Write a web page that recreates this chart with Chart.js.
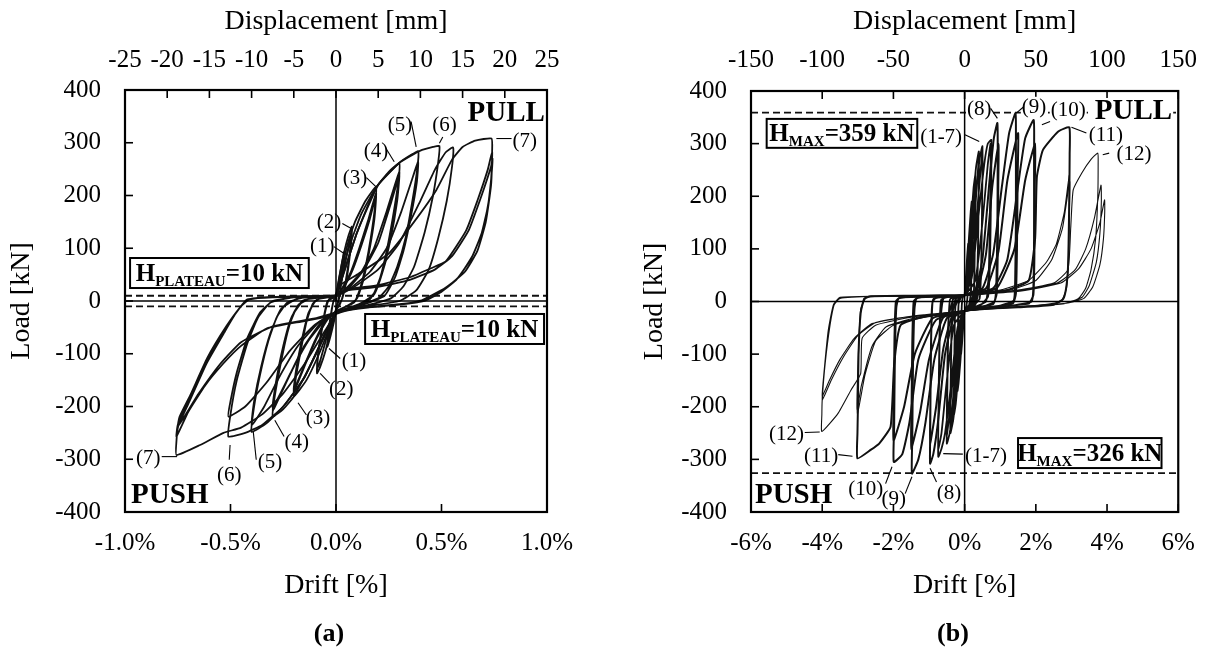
<!DOCTYPE html>
<html><head><meta charset="utf-8">
<script src="https://cdn.jsdelivr.net/npm/chart.js@4.4.1/dist/chart.umd.min.js"></script>
<style>
html,body{margin:0;padding:0;background:#fff;}
#wrap{position:relative;width:1213px;height:648px;overflow:hidden;background:#fff;}
canvas{position:absolute;top:0;}
#ca{left:0;} #cb{left:606px;}
.cap{position:absolute;font:bold 26px 'Liberation Serif',serif;transform:translate(-50%,-50%);color:#000;}
</style></head><body>
<div id="wrap">
<canvas id="ca" width="606" height="648"></canvas>
<canvas id="cb" width="607" height="648"></canvas>
<div class="cap" style="left:329px;top:633px">(a)</div>
<div class="cap" style="left:953px;top:633px">(b)</div>
</div>
<script>
// ---------- tick values / labels ----------
const loadTicks = [-400,-300,-200,-100,0,100,200,300,400];
const loadLabels = ['-400','-300','-200','-100','0','100','200','300','400'];
const aDriftTicks = [-1.0,-0.5,0,0.5,1.0];
const aDriftLabels = ['-1.0%','-0.5%','0.0%','0.5%','1.0%'];
const aDispTicks = [-25,-20,-15,-10,-5,0,5,10,15,20,25];
const aDispLabels = ['-25','-20','-15','-10','-5','0','5','10','15','20','25'];
const bDriftTicks = [-6,-4,-2,0,2,4,6];
const bDriftLabels = ['-6%','-4%','-2%','0%','2%','4%','6%'];
const bDispTicks = [-150,-100,-50,0,50,100,150];
const bDispLabels = ['-150','-100','-50','0','50','100','150'];

// ---------- reference levels (kN) ----------
const aPlateau = [10, -10];
const bMax = [359, -326];

// ---------- panel (a): drift [%], load [kN] ----------
const a1 = [[0,0],[0.01,30],[0.025,65],[0.038,93],[0.035,70],[0.025,35],[0.015,5],[0.005,-10],[0,-20],[-0.01,-40],[-0.025,-65],[-0.04,-87],[-0.036,-65],[-0.025,-30],[-0.012,0],[0,12],[0.01,25],[0.025,55],[0.038,85],[0.035,62],[0.022,25],[0.01,0],[0,-15],[-0.015,-40],[-0.03,-65],[-0.04,-80],[-0.035,-55],[-0.02,-15],[-0.01,2],[0,10]];
const a2 = [[0,10],[0.015,45],[0.04,95],[0.06,125],[0.075,141],[0.07,110],[0.055,60],[0.035,15],[0.02,-5],[0,-18],[-0.02,-45],[-0.05,-95],[-0.075,-125],[-0.09,-137],[-0.085,-105],[-0.065,-50],[-0.045,-10],[-0.03,5],[0,10],[0.02,30],[0.045,75],[0.065,115],[0.075,130],[0.068,95],[0.05,40],[0.03,5],[0.01,-10],[0,-18],[-0.025,-40],[-0.055,-85],[-0.08,-120],[-0.09,-128],[-0.082,-90],[-0.06,-35],[-0.04,0],[0,8]];
const a3 = [[0,8],[0.02,45],[0.05,100],[0.09,150],[0.14,190],[0.19,217],[0.185,180],[0.165,120],[0.14,65],[0.115,25],[0.09,0],[0.05,-10],[0,-20],[-0.03,-50],[-0.08,-100],[-0.14,-150],[-0.2,-181],[-0.19,-145],[-0.165,-90],[-0.14,-40],[-0.11,-5],[-0.07,6],[0,10],[0.03,25],[0.07,55],[0.11,100],[0.15,150],[0.19,205],[0.183,160],[0.16,100],[0.135,50],[0.11,15],[0.085,-3],[0.04,-12],[0,-20],[-0.04,-35],[-0.09,-70],[-0.14,-115],[-0.2,-172],[-0.19,-135],[-0.16,-75],[-0.135,-30],[-0.1,0],[-0.06,6],[0,10],[0.04,28],[0.08,60],[0.12,105],[0.16,155],[0.19,200],[0.182,155],[0.158,95],[0.13,40],[0.1,5],[0.05,-10],[0,-20],[-0.05,-38],[-0.1,-75],[-0.15,-122],[-0.2,-168],[-0.188,-128],[-0.16,-70],[-0.13,-22],[-0.09,3],[0,9]];
const a4 = [[0,9],[0.02,40],[0.06,100],[0.12,165],[0.19,215],[0.25,245],[0.3,261],[0.295,225],[0.27,160],[0.24,95],[0.21,45],[0.18,15],[0.14,-3],[0.07,-12],[0,-22],[-0.04,-55],[-0.1,-105],[-0.2,-181],[-0.25,-205],[-0.3,-219],[-0.29,-180],[-0.26,-115],[-0.23,-60],[-0.2,-22],[-0.16,0],[-0.1,7],[0,10],[0.05,25],[0.12,55],[0.18,100],[0.24,170],[0.3,245],[0.292,200],[0.265,135],[0.235,75],[0.2,30],[0.16,3],[0.08,-10],[0,-22],[-0.06,-40],[-0.13,-75],[-0.2,-125],[-0.26,-175],[-0.3,-208],[-0.288,-165],[-0.255,-100],[-0.22,-45],[-0.18,-8],[-0.12,5],[0,10],[0.06,25],[0.13,58],[0.2,110],[0.26,185],[0.3,238],[0.29,190],[0.26,120],[0.22,55],[0.18,12],[0.1,-8],[0,-20],[-0.07,-40],[-0.15,-85],[-0.22,-140],[-0.3,-202],[-0.285,-155],[-0.25,-85],[-0.21,-30],[-0.15,2],[0,9]];
const a5 = [[0,9],[0.03,45],[0.1,130],[0.19,215],[0.3,262],[0.36,278],[0.39,284],[0.385,250],[0.36,185],[0.33,120],[0.29,65],[0.25,28],[0.2,5],[0.1,-9],[0,-22],[-0.05,-60],[-0.15,-145],[-0.25,-200],[-0.33,-232],[-0.4,-248],[-0.39,-205],[-0.36,-140],[-0.32,-75],[-0.28,-30],[-0.23,-3],[-0.15,7],[0,10],[0.07,25],[0.16,55],[0.24,100],[0.31,170],[0.36,230],[0.39,265],[0.383,225],[0.355,160],[0.32,95],[0.28,45],[0.23,10],[0.12,-8],[0,-22],[-0.08,-40],[-0.18,-85],[-0.27,-145],[-0.34,-200],[-0.4,-236],[-0.388,-190],[-0.355,-125],[-0.31,-60],[-0.26,-15],[-0.18,5],[0,10]];
const a6 = [[0,9],[0.03,45],[0.1,130],[0.2,220],[0.3,262],[0.4,285],[0.46,292],[0.49,294],[0.485,265],[0.46,200],[0.42,130],[0.37,65],[0.32,28],[0.26,5],[0.15,-8],[0,-22],[-0.05,-60],[-0.15,-145],[-0.25,-200],[-0.35,-235],[-0.43,-250],[-0.51,-257],[-0.5,-215],[-0.47,-150],[-0.42,-80],[-0.37,-32],[-0.31,-3],[-0.2,7],[0,10],[0.08,25],[0.2,60],[0.3,110],[0.4,190],[0.47,250],[0.52,282],[0.555,291],[0.55,255],[0.525,190],[0.485,120],[0.44,60],[0.38,20],[0.3,0],[0.15,-10],[0,-22],[-0.1,-45],[-0.22,-95],[-0.33,-155],[-0.43,-200],[-0.51,-219],[-0.5,-190],[-0.47,-135],[-0.42,-70],[-0.36,-22],[-0.3,0],[-0.2,7],[0,10]];
const a7 = [[0,8],[0.02,30],[0.1,50],[0.25,90],[0.37,150],[0.475,210],[0.55,268],[0.6,292],[0.66,304],[0.737,308],[0.74,285],[0.735,220],[0.71,150],[0.67,95],[0.61,55],[0.52,25],[0.44,8],[0.4,0],[0.3,-6],[0.15,-12],[0.05,-18],[0,-25],[-0.05,-55],[-0.15,-120],[-0.25,-175],[-0.35,-215],[-0.45,-240],[-0.533,-250],[-0.644,-273],[-0.756,-292],[-0.756,-265],[-0.748,-238],[-0.7,-195],[-0.613,-118],[-0.53,-60],[-0.47,-20],[-0.42,2],[-0.35,7],[-0.2,9],[0,11],
 [0.05,22],[0.2,30],[0.35,45],[0.45,62],[0.52,75],[0.617,134],[0.67,190],[0.72,250],[0.74,283],[0.738,250],[0.73,205],[0.7,140],[0.65,88],[0.58,45],[0.5,20],[0.43,4],[0.35,-4],[0.2,-10],[0.05,-18],[0,-24],[-0.05,-30],[-0.15,-38],[-0.327,-52],[-0.45,-85],[-0.533,-118],[-0.62,-160],[-0.7,-210],[-0.756,-257],[-0.75,-235],[-0.7,-190],[-0.613,-112],[-0.53,-55],[-0.46,-15],[-0.42,3],[-0.3,8],[-0.1,9],[0,10],
 [0.05,20],[0.2,27],[0.35,40],[0.47,60],[0.55,85],[0.63,135],[0.69,200],[0.735,255],[0.742,270],[0.735,230],[0.72,180],[0.69,128],[0.64,80],[0.57,40],[0.49,15],[0.42,0],[0.3,-7],[0.1,-14],[0,-22],[-0.1,-33],[-0.3,-48],[-0.45,-78],[-0.55,-120],[-0.65,-175],[-0.72,-220],[-0.75,-238],[-0.742,-220],[-0.69,-178],[-0.61,-108],[-0.52,-48],[-0.45,-10],[-0.41,3],[-0.3,7],[0,9]];

// ---------- panel (b): drift [%], load [kN] ----------
const b17 = [[0,12],[0.03,40],[0.07,85],[0.1,110],[0.095,60],[0.08,10],[0.05,-8],[0,-18],[-0.03,-40],[-0.07,-78],[-0.1,-100],[-0.095,-55],[-0.08,-8],[-0.05,8],[0,12],
 [0.05,40],[0.12,120],[0.17,170],[0.2,190],[0.195,120],[0.18,30],[0.15,-5],[0.05,-12],[0,-18],[-0.05,-45],[-0.12,-115],[-0.17,-155],[-0.2,-170],[-0.195,-100],[-0.18,-20],[-0.15,6],[-0.05,10],[0,12],
 [0.07,35],[0.14,110],[0.2,175],[0.195,100],[0.18,20],[0.12,-8],[0,-18],[-0.07,-40],[-0.14,-105],[-0.2,-160],[-0.19,-80],[-0.17,-5],[-0.1,8],[0,12],
 [0.08,45],[0.18,150],[0.25,215],[0.3,240],[0.295,160],[0.275,50],[0.24,0],[0.1,-10],[0,-18],[-0.08,-50],[-0.18,-140],[-0.25,-195],[-0.3,-215],[-0.295,-140],[-0.275,-40],[-0.24,5],[-0.1,10],[0,12],
 [0.1,40],[0.2,130],[0.3,225],[0.29,130],[0.26,20],[0.15,-8],[0,-18],[-0.1,-45],[-0.2,-125],[-0.3,-205],[-0.29,-110],[-0.26,-10],[-0.15,8],[0,12],
 [0.1,45],[0.22,170],[0.32,255],[0.4,285],[0.395,200],[0.37,70],[0.33,5],[0.15,-10],[0,-18],[-0.1,-50],[-0.22,-160],[-0.32,-225],[-0.4,-250],[-0.393,-170],[-0.37,-55],[-0.33,4],[-0.15,10],[0,12],
 [0.14,40],[0.27,150],[0.4,270],[0.39,170],[0.35,40],[0.25,-6],[0,-18],[-0.14,-45],[-0.27,-140],[-0.4,-240],[-0.39,-150],[-0.35,-30],[-0.25,6],[0,12],
 [0.15,45],[0.3,190],[0.42,270],[0.5,295],[0.495,210],[0.47,80],[0.42,5],[0.2,-10],[0,-18],[-0.15,-55],[-0.3,-190],[-0.42,-250],[-0.5,-270],[-0.49,-190],[-0.46,-60],[-0.41,4],[-0.2,10],[0,12],
 [0.18,40],[0.35,170],[0.5,285],[0.49,180],[0.45,40],[0.3,-6],[0,-18],[-0.18,-45],[-0.35,-160],[-0.5,-260],[-0.49,-160],[-0.45,-30],[-0.3,7],[0,12],
 [0.2,45],[0.4,170],[0.55,260],[0.65,300],[0.75,307],[0.745,230],[0.72,100],[0.66,10],[0.4,-10],[0,-18],[-0.2,-50],[-0.4,-170],[-0.55,-250],[-0.65,-280],[-0.74,-295],[-0.735,-210],[-0.71,-80],[-0.66,3],[-0.4,10],[0,12],
 [0.3,40],[0.5,150],[0.65,260],[0.73,300],[0.72,200],[0.68,60],[0.6,0],[0.3,-10],[0,-18],[-0.3,-45],[-0.5,-150],[-0.65,-250],[-0.74,-280],[-0.73,-190],[-0.69,-50],[-0.6,5],[-0.3,10],[0,12]];
const b8 = [[0,12],[0.3,22],[0.5,80],[0.7,230],[0.82,310],[0.92,339],[0.93,280],[0.92,140],[0.89,30],[0.84,0],[0.6,-8],[0.2,-13],[0,-18],[-0.3,-30],[-0.55,-100],[-0.75,-230],[-0.88,-290],[-0.97,-308],[-0.965,-240],[-0.95,-110],[-0.92,-15],[-0.87,5],[-0.6,9],[-0.2,11],[0,12],
 [0.35,22],[0.6,90],[0.78,220],[0.95,300],[0.945,220],[0.93,90],[0.9,15],[0.8,-5],[0.3,-12],[0,-18],[-0.35,-28],[-0.6,-90],[-0.8,-200],[-0.97,-270],[-0.96,-190],[-0.94,-70],[-0.9,0],[-0.8,7],[-0.3,10],[0,12]];
const b9 = [[0,12],[0.5,25],[0.8,90],[1.05,220],[1.25,320],[1.43,358],[1.44,300],[1.44,150],[1.42,40],[1.38,2],[1.0,-8],[0.4,-13],[0,-18],[-0.5,-32],[-0.85,-110],[-1.1,-230],[-1.3,-300],[-1.48,-327],[-1.47,-260],[-1.45,-120],[-1.41,-15],[-1.35,6],[-0.9,10],[-0.3,11],[0,12],
 [0.6,25],[0.95,95],[1.2,230],[1.5,320],[1.49,240],[1.47,100],[1.44,15],[1.35,-4],[0.5,-12],[0,-18],[-0.6,-30],[-1.0,-110],[-1.25,-210],[-1.5,-280],[-1.49,-200],[-1.47,-80],[-1.43,0],[-1.3,8],[-0.4,10],[0,12]];
const b10 = [[0,12],[0.8,25],[1.2,80],[1.5,220],[1.7,310],[1.94,345],[1.95,280],[1.95,120],[1.93,25],[1.88,0],[1.3,-8],[0.5,-13],[0,-18],[-0.8,-35],[-1.3,-110],[-1.55,-230],[-1.75,-290],[-1.99,-305],[-1.98,-240],[-1.96,-110],[-1.92,-12],[-1.85,6],[-1.2,10],[-0.4,11],[0,12],
 [0.9,25],[1.4,100],[1.7,230],[1.98,300],[1.97,220],[1.96,90],[1.93,12],[1.8,-4],[0.6,-12],[0,-18],[-0.9,-32],[-1.4,-100],[-1.7,-200],[-2.0,-265],[-1.99,-190],[-1.97,-70],[-1.93,0],[-1.8,8],[-0.5,10],[0,12]];
const b11 = [[0,12],[1.2,22],[1.8,40],[1.98,120],[2.03,237],[2.2,288],[2.63,323],[2.94,331],[2.95,280],[2.94,200],[2.92,110],[2.9,60],[2.85,25],[2.77,5],[2.5,-6],[1.5,-11],[0.5,-14],[0,-18],[-1.2,-30],[-1.8,-45],[-1.98,-120],[-2.08,-238],[-2.4,-270],[-2.64,-282],[-3.01,-298],[-3.01,-250],[-3.0,-213],[-2.98,-100],[-2.92,-22],[-2.82,5],[-2.64,10],[-1.5,11],[0,12]];
const b11r = [[0,12],[1.0,22],[1.8,40],[2.3,75],[2.58,110],[2.8,170],[2.94,240],[2.945,200],[2.93,110],[2.9,55],[2.84,20],[2.75,3],[2.4,-6],[1.2,-11],[0,-18],[-1.0,-28],[-2.0,-45],[-2.5,-75],[-2.8,-140],[-3.01,-213],[-2.99,-120],[-2.93,-25],[-2.82,5],[-2.6,10],[-1.2,11],[0,12],
 [1.2,20],[2.0,40],[2.45,80],[2.75,140],[2.95,228],[2.945,180],[2.92,90],[2.86,25],[2.7,0],[2.0,-8],[0.6,-13],[0,-18],[-1.2,-28],[-2.2,-48],[-2.6,-85],[-2.9,-160],[-3.02,-205],[-2.99,-110],[-2.92,-15],[-2.75,8],[-1.5,11],[0,12]];
const b12 = [[0,12],[1.5,22],[2.5,35],[2.9,60],[2.98,140],[3.05,212],[3.3,245],[3.55,270],[3.74,282],[3.75,260],[3.74,200],[3.68,120],[3.55,60],[3.4,25],[3.2,6],[2.8,-4],[1.5,-10],[0,-18],[-1.5,-30],[-2.5,-45],[-2.88,-70],[-2.92,-137],[-3.19,-168],[-3.56,-213],[-4.01,-247],[-4.01,-215],[-4.0,-187],[-3.92,-120],[-3.78,-45],[-3.65,-3],[-3.5,8],[-2.5,10],[-1.0,11],[0,12],
 [1.5,20],[2.6,35],[3.1,60],[3.4,100],[3.65,160],[3.83,221],[3.84,190],[3.8,130],[3.7,75],[3.5,30],[3.3,8],[2.9,-3],[1.5,-10],[0,-18],[-1.5,-28],[-2.5,-40],[-3.0,-65],[-3.4,-105],[-3.75,-150],[-4.0,-187],[-3.95,-140],[-3.82,-60],[-3.68,-8],[-3.5,6],[-2.5,10],[0,12],
 [1.6,20],[2.7,35],[3.2,62],[3.55,100],[3.8,150],[3.93,193],[3.935,170],[3.9,120],[3.8,70],[3.6,28],[3.35,6],[2.9,-3],[1.5,-10],[0,-18],[-1.5,-28],[-2.6,-42],[-3.1,-70],[-3.5,-110],[-3.8,-150],[-4.0,-180],[-3.95,-135],[-3.83,-55],[-3.68,-5],[-3.45,8],[-2,10],[0,12]];

// ---------- annotations (placed in data coordinates) ----------
const annsA = [
 {t:'(1)',x:-0.065,y:106,l:[-0.01,103,0.038,90]},
 {t:'(2)',x:-0.033,y:150,l:[0.03,147,0.07,138]},
 {t:'(3)',x:0.09,y:234,l:[0.144,234,0.189,217]},
 {t:'(4)',x:0.189,y:286,l:[0.237,289,0.276,264]},
 {t:'(5)',x:0.303,y:335,l:[0.356,340,0.38,292]},
 {t:'(6)',x:0.514,y:335,l:[0.506,311,0.49,299]},
 {t:'(7)',x:0.895,y:305,l:[0.76,308,0.832,308]},
 {t:'(1)',x:0.085,y:-113,l:[-0.033,-90,0.02,-109]},
 {t:'(2)',x:0.025,y:-166,l:[-0.075,-137,-0.03,-156]},
 {t:'(3)',x:-0.085,y:-220,l:[-0.18,-193,-0.14,-216]},
 {t:'(4)',x:-0.186,y:-267,l:[-0.29,-226,-0.246,-257]},
 {t:'(5)',x:-0.313,y:-305,l:[-0.392,-248,-0.378,-301]},
 {t:'(6)',x:-0.506,y:-328,l:[-0.502,-273,-0.506,-301]},
 {t:'(7)',x:-0.89,y:-296,l:[-0.826,-295,-0.753,-295]}
];
const annsB = [
 {t:'(1-7)',x:-0.66,y:313,l:[0.01,317,0.41,304]},
 {t:'(8)',x:0.41,y:367,l:[0.73,367,0.92,348],bg:true},
 {t:'(9)',x:1.95,y:370,l:[1.66,370,1.45,358],bg:true},
 {t:'(10)',x:2.91,y:364,l:[2.4,342,2.17,336],bg:true},
 {t:'(11)',x:3.97,y:317,l:[3.42,320,3.0,331]},
 {t:'(12)',x:4.76,y:282,l:[4.06,282,3.88,279]},
 {t:'(12)',x:-5.0,y:-251,l:[-4.49,-249,-4.07,-248]},
 {t:'(11)',x:-4.03,y:-292,l:[-3.55,-291,-3.15,-294]},
 {t:'(10)',x:-2.78,y:-355,l:[-2.22,-346,-2.04,-314]},
 {t:'(9)',x:-1.99,y:-374,l:[-1.67,-365,-1.48,-333]},
 {t:'(8)',x:-0.44,y:-362,l:[-0.79,-343,-0.97,-317]},
 {t:'(1-7)',x:0.6,y:-292,l:[-0.05,-290,-0.6,-289]}
];
const boxesA = [
 {x1:-0.976,x2:-0.129,y1:81.5,y2:24.6,sub:'PLATEAU',rest:'=10 kN'},
 {x1:0.138,x2:0.986,y1:-24.6,y2:-81.5,sub:'PLATEAU',rest:'=10 kN'}
];
const boxesB = [
 {x1:-5.56,x2:-1.33,y1:347,y2:292,sub:'MAX',rest:'=359 kN'},
 {x1:1.5,x2:5.53,y1:-259.5,y2:-316.5,sub:'MAX',rest:'=326 kN'}
];
const bigA = [{t:'PULL',x:0.99,y:358,align:'right'},{t:'PUSH',x:-0.971,y:-366,align:'left'}];
const bigB = [{t:'PULL',x:5.83,y:362,align:'right',bg:true},{t:'PUSH',x:-5.89,y:-366,align:'left'}];

const FONT = "'Liberation Serif', 'Times New Roman', serif";

const deco = {
  id:'deco',
  afterDatasetsDraw(chart){
    const o = chart.options.plugins.deco; if(!o) return;
    const ctx = chart.ctx, a = chart.chartArea, sx = chart.scales.x, sy = chart.scales.y, s2 = chart.scales.x2;
    const X = v=>sx.getPixelForValue(v), Y = v=>sy.getPixelForValue(v);
    const ln=(x1,y1,x2,y2)=>{ctx.beginPath();ctx.moveTo(x1,y1);ctx.lineTo(x2,y2);ctx.stroke();};
    ctx.save();
    ctx.strokeStyle='#000'; ctx.fillStyle='#000';
    ctx.lineWidth=1.5;
    const x0=X(0), y0=Y(0);
    ln(x0,a.top,x0,a.bottom); ln(a.left,y0,a.right,y0);
    ctx.lineWidth=1.6;
    sx.ticks.forEach(t=>{const p=sx.getPixelForValue(t.value); ln(p,a.bottom,p,a.bottom-8);});
    s2.ticks.forEach(t=>{const p=s2.getPixelForValue(t.value); ln(p,a.top,p,a.top+8);});
    sy.ticks.forEach(t=>{const p=sy.getPixelForValue(t.value); ln(a.left,p,a.left+8,p);});
    ctx.lineWidth=2.2;
    ctx.strokeRect(a.left,a.top,a.right-a.left,a.bottom-a.top);
    // cycle labels
    ctx.font = '21px '+FONT; ctx.textAlign='center'; ctx.textBaseline='middle';
    o.anns.forEach(n=>{
      if(n.bg){const w=ctx.measureText(n.t).width; ctx.fillStyle='#fff'; ctx.fillRect(X(n.x)-w/2-1,Y(n.y)-10,w+2,20); ctx.fillStyle='#000';}
      ctx.lineWidth=1.1; ln(X(n.l[0]),Y(n.l[1]),X(n.l[2]),Y(n.l[3]));
      ctx.fillText(n.t,X(n.x),Y(n.y)+1);
    });
    // bold PULL / PUSH
    ctx.font='bold 29px '+FONT;
    o.big.forEach(b=>{
      ctx.textAlign=b.align;
      if(b.bg){const w=ctx.measureText(b.t).width; ctx.fillStyle='#fff'; ctx.fillRect(X(b.x)-w-3,Y(b.y)-13,w+4,26); ctx.fillStyle='#000';}
      ctx.fillText(b.t,X(b.x),Y(b.y)+1);
    });
    // boxes
    o.boxes.forEach(b=>{
      const l=X(b.x1), r=X(b.x2), t=Y(b.y1), btm=Y(b.y2);
      ctx.fillStyle='#fff'; ctx.fillRect(l,t,r-l,btm-t);
      ctx.lineWidth=2; ctx.strokeRect(l,t,r-l,btm-t);
      ctx.fillStyle='#000'; ctx.textAlign='left'; ctx.textBaseline='alphabetic';
      const fb='bold 25px '+FONT, fs='bold 15px '+FONT;
      ctx.font=fb; const w1=ctx.measureText('H').width, w3=ctx.measureText(b.rest).width;
      ctx.font=fs; const w2=ctx.measureText(b.sub).width;
      let x=(l+r)/2-(w1+w2+w3)/2; const base=(t+btm)/2+8;
      ctx.font=fb; ctx.fillText('H',x,base); x+=w1;
      ctx.font=fs; ctx.fillText(b.sub,x,base+5); x+=w2;
      ctx.font=fb; ctx.fillText(b.rest,x,base);
    });
    ctx.restore();
  }
};

function build(id,o){
  const ds = o.series.map(s=>({
    data:s.pts.map(p=>({x:p[0],y:p[1]})), showLine:true, borderColor:'#111',
    borderWidth:s.w, pointRadius:0, tension:s.dash?0:0.15, fill:false, borderDash:s.dash||[]
  }));
  const tickFont={family:FONT,size:25}, titleFont={family:FONT,size:28};
  return new Chart(document.getElementById(id),{
    type:'scatter',
    data:{datasets:ds},
    options:{
      responsive:false, maintainAspectRatio:false, animation:false, events:[],
      layout:{padding:{left:0,right:o.padR,top:0,bottom:0}},
      plugins:{legend:{display:false},tooltip:{enabled:false},deco:o.deco},
      scales:{
        x:{type:'linear',position:'bottom',min:o.xMin,max:o.xMax,
          afterBuildTicks:s=>{s.ticks=o.xTicks.map(v=>({value:v}));},
          afterFit:s=>{s.height=136;},
          grid:{display:false,drawTicks:false},border:{display:false},
          ticks:{autoSkip:false,maxRotation:0,padding:16,color:'#000',font:tickFont,callback:(v,i)=>o.xLabels[i]},
          title:{display:true,text:'Drift [%]',color:'#000',font:titleFont,padding:{top:0,bottom:46}}},
        x2:{type:'linear',position:'top',min:o.dMin,max:o.dMax,
          afterBuildTicks:s=>{s.ticks=o.dTicks.map(v=>({value:v}));},
          afterFit:s=>{s.height=o.topH;},
          grid:{display:false,drawTicks:false},border:{display:false},
          ticks:{autoSkip:false,maxRotation:0,padding:o.topPad,color:'#000',font:tickFont,callback:(v,i)=>o.dLabels[i]},
          title:{display:true,text:'Displacement [mm]',color:'#000',font:titleFont,padding:{top:5,bottom:0}}},
        y:{type:'linear',position:'left',min:-400,max:400,
          afterBuildTicks:s=>{s.ticks=loadTicks.map(v=>({value:v}));},
          afterFit:s=>{s.width=o.yW;},
          grid:{display:false,drawTicks:false},border:{display:false},
          ticks:{autoSkip:false,padding:24,color:'#000',font:tickFont,callback:(v,i)=>loadLabels[i]},
          title:{display:true,text:'Load [kN]',color:'#000',font:titleFont,padding:{top:o.yTitlePad,bottom:0}}}
      }
    },
    plugins:[deco]
  });
}

build('ca',{
  xMin:-1,xMax:1,xTicks:aDriftTicks,xLabels:aDriftLabels,
  dMin:-25,dMax:25,dTicks:aDispTicks,dLabels:aDispLabels,
  padR:59,topH:90,topPad:15,yW:125,yTitlePad:5,
  series:[
    {pts:[[-1,aPlateau[0]],[1,aPlateau[0]]],w:1.8,dash:[7,4]},
    {pts:[[-1,aPlateau[1]],[1,aPlateau[1]]],w:1.8,dash:[7,4]},
    {pts:a1,w:1.8},{pts:a2,w:1.8},{pts:a3,w:1.8},{pts:a4,w:1.8},{pts:a5,w:1.8},{pts:a6,w:1.8},{pts:a7,w:1.8}
  ],
  deco:{anns:annsA,boxes:boxesA,big:bigA}
});
build('cb',{
  xMin:-6,xMax:6,xTicks:bDriftTicks,xLabels:bDriftLabels,
  dMin:-150,dMax:150,dTicks:bDispTicks,dLabels:bDispLabels,
  padR:31,topH:91,topPad:16,yW:145,yTitlePad:32,
  series:[
    {pts:[[-6,bMax[0]],[6,bMax[0]]],w:1.8,dash:[7,4]},
    {pts:[[-6,bMax[1]],[6,bMax[1]]],w:1.8,dash:[7,4]},
    {pts:b17,w:1.8},{pts:b8,w:2},{pts:b9,w:2},{pts:b10,w:2},{pts:b11,w:2},{pts:b11r,w:1.1},{pts:b12,w:1.1}
  ],
  deco:{anns:annsB,boxes:boxesB,big:bigB}
});
</script>
</body></html>
